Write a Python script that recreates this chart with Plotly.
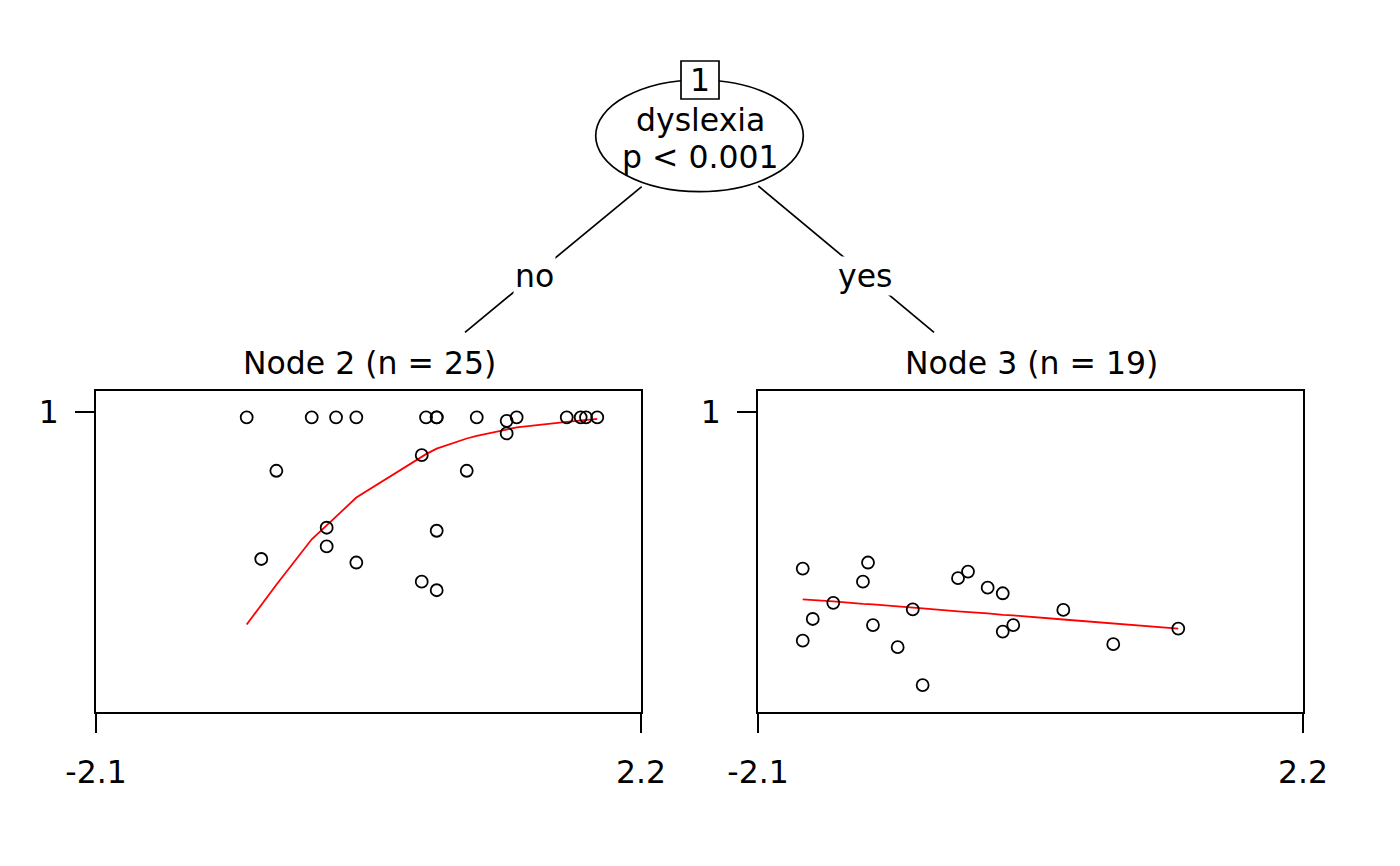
import plotly.graph_objects as go

W, H = 1400, 866
FONT = "DejaVu Sans"
FS = 31.5
OX, OY = 8, 8  # page body offset compensation

# ---- data ----
node2_iq = [-0.911, -0.398, -0.206, -0.046, 0.504, 0.588, 0.588, 0.904, 1.140, 1.219,
            1.614, 1.724, 1.766, 1.855, 1.140, -0.677, 0.470, 0.825, -0.280, -0.280,
            -0.796, -0.046, 0.588, 0.470, 0.588]
node2_acc = [0.990, 0.990, 0.990, 0.990, 0.990, 0.990, 0.990, 0.990, 0.983, 0.990,
             0.990, 0.990, 0.990, 0.990, 0.958, 0.884, 0.915, 0.884, 0.771, 0.734,
             0.709, 0.702, 0.765, 0.664, 0.647]
node2_fit_iq = [-0.911, -0.796, -0.677, -0.398, -0.280, -0.206, -0.046, 0.470, 0.504,
                0.588, 0.825, 0.904, 1.140, 1.219, 1.614, 1.724, 1.766, 1.855]
node2_fit = [0.579, 0.618, 0.658, 0.748, 0.775, 0.793, 0.831, 0.911, 0.917,
             0.928, 0.948, 0.953, 0.966, 0.970, 0.981, 0.984, 0.985, 0.987]

node3_iq = [-1.747, -1.232, -1.272, -1.506, -1.668, -1.747, -1.193, -0.998, -0.879,
            -0.801, -0.522, -0.443, -0.288, -0.169, -0.169, -0.086, 0.309, 0.703, 1.216]
node3_acc = [0.690, 0.702, 0.664, 0.622, 0.590, 0.547, 0.578, 0.534, 0.609,
             0.459, 0.671, 0.684, 0.652, 0.641, 0.565, 0.578, 0.608, 0.540, 0.571]
node3_fit_iq = [-1.747, -1.668, -1.506, -1.272, -1.232, -1.193, -0.998, -0.879, -0.801,
                -0.522, -0.443, -0.288, -0.169, -0.086, 0.309, 0.703, 1.216]
node3_fit = [0.629, 0.628, 0.625, 0.620, 0.619, 0.619, 0.615, 0.612, 0.611,
             0.605, 0.604, 0.601, 0.598, 0.597, 0.589, 0.581, 0.571]

x_ticks = [-2.1, 2.2]
x_ticktext = ["-2.1", "2.2"]
y_ticks = [1]
y_ticktext = ["1"]
x_range = [-2.1, 2.2]
y_range = [0.4055, 1.0422]

split_var = "dyslexia"
split_p = "p < 0.001"
edge_labels = ["no", "yes"]
node_titles = ["Node 2 (n = 25)", "Node 3 (n = 19)"]


def px(x):
    return (x - OX) / W


def py(y):
    return 1 - (y - OY) / H


fig = go.Figure()

for i, (xs, ys, fx, fy) in enumerate([(node2_iq, node2_acc, node2_fit_iq, node2_fit),
                                      (node3_iq, node3_acc, node3_fit_iq, node3_fit)]):
    xa = "x" if i == 0 else "x2"
    ya = "y" if i == 0 else "y2"
    fig.add_trace(go.Scatter(x=fx, y=fy, mode="lines", xaxis=xa, yaxis=ya,
                             line=dict(color="red", width=1.8),
                             showlegend=False, hoverinfo="skip"))
    fig.add_trace(go.Scatter(x=xs, y=ys, mode="markers", xaxis=xa, yaxis=ya,
                             marker=dict(symbol="circle-open", size=12, color="black",
                                         line=dict(width=1.8, color="black")),
                             showlegend=False, hoverinfo="skip", cliponaxis=False))

axis_common = dict(showline=True, mirror=True, linecolor="black", linewidth=1.7,
                   ticks="outside", ticklen=19, tickwidth=1.7, tickcolor="black",
                   showgrid=False, zeroline=False, automargin=False,
                   tickfont=dict(family=FONT, size=FS, color="black"))

ydom = [py(712), py(391)]
fig.update_layout(
    width=W, height=H, autosize=False,
    margin=dict(l=0, r=0, t=0, b=0, pad=0, autoexpand=False),
    showlegend=False,
    paper_bgcolor="white", plot_bgcolor="white",
    xaxis=dict(domain=[px(96), px(641)], range=x_range, tickvals=x_ticks,
               ticktext=x_ticktext, anchor="y", ticklabelstandoff=12, **axis_common),
    yaxis=dict(domain=ydom, range=y_range, tickvals=y_ticks, ticktext=y_ticktext,
               anchor="x", ticklabelstandoff=10, **axis_common),
    xaxis2=dict(domain=[px(758), px(1303)], range=x_range, tickvals=x_ticks,
                ticktext=x_ticktext, anchor="y2", ticklabelstandoff=12, **axis_common),
    yaxis2=dict(domain=ydom, range=y_range, tickvals=y_ticks, ticktext=y_ticktext,
                anchor="x2", ticklabelstandoff=10, **axis_common),
)

shapes = []
shapes.append(dict(type="line", xref="paper", yref="paper",
                   x0=px(641.7), y0=py(186.7), x1=px(465), y1=py(332.3),
                   line=dict(color="black", width=1.7)))
shapes.append(dict(type="line", xref="paper", yref="paper",
                   x0=px(758.3), y0=py(186), x1=px(934), y1=py(332.3),
                   line=dict(color="black", width=1.7)))
shapes.append(dict(type="circle", xref="paper", yref="paper",
                   x0=px(595.7), x1=px(803.3), y0=py(191.7), y1=py(80),
                   fillcolor="white", line=dict(color="black", width=1.7)))
shapes.append(dict(type="rect", xref="paper", yref="paper",
                   x0=px(681), x1=px(719), y0=py(99), y1=py(61),
                   fillcolor="white", line=dict(color="black", width=1.7)))
fig.update_layout(shapes=shapes)

ann = []


def txt(text, x, y, bg=None):
    d = dict(text=text, xref="paper", yref="paper", x=px(x), y=py(y),
             xanchor="center", yanchor="middle", showarrow=False,
             font=dict(family=FONT, size=FS, color="black"))
    if bg:
        d["bgcolor"] = bg
    ann.append(d)


txt("1", 700, 80)
txt(split_var, 700, 120)
txt(split_p, 700, 157)
txt(edge_labels[0], 534, 276, bg="white")
txt(edge_labels[1], 865, 276, bg="white")
txt(node_titles[0], 369, 363)
txt(node_titles[1], 1031, 363)
fig.update_layout(annotations=ann)

fig.write_html("out.html")
